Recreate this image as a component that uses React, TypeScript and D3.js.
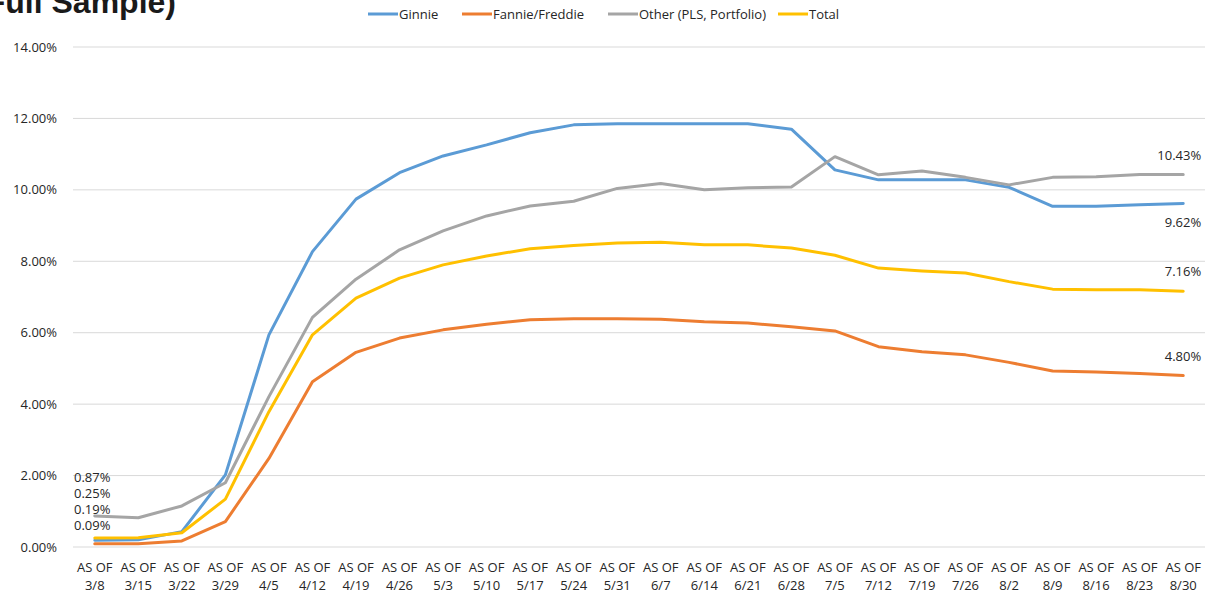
import React from "react";
import * as d3 from "d3";

const categories = ["3/8","3/15","3/22","3/29","4/5","4/12","4/19","4/26","5/3","5/10","5/17","5/24","5/31","6/7","6/14","6/21","6/28","7/5","7/12","7/19","7/26","8/2","8/9","8/16","8/23","8/30"];

const ginnie = [0.19,0.20,0.43,2.02,5.94,8.27,9.74,10.48,10.95,11.26,11.60,11.82,11.85,11.85,11.85,11.85,11.70,10.56,10.28,10.28,10.28,10.07,9.54,9.54,9.58,9.62];
const fannie = [0.09,0.09,0.17,0.71,2.48,4.63,5.45,5.85,6.08,6.24,6.36,6.39,6.39,6.38,6.31,6.27,6.17,6.05,5.61,5.47,5.38,5.17,4.93,4.90,4.86,4.80];
const other = [0.87,0.82,1.15,1.80,4.21,6.43,7.50,8.32,8.85,9.27,9.55,9.68,10.04,10.18,10.00,10.06,10.08,10.93,10.42,10.53,10.35,10.14,10.35,10.37,10.43,10.43];
const total = [0.25,0.26,0.40,1.34,3.79,5.94,6.97,7.53,7.90,8.15,8.35,8.44,8.51,8.53,8.46,8.46,8.37,8.17,7.81,7.73,7.67,7.43,7.22,7.20,7.20,7.16];

const seriesNames = ["Ginnie","Fannie/Freddie","Other (PLS, Portfolio)","Total"];
const seriesColors = ["#5B9BD5","#ED7D31","#A5A5A5","#FFC000"];
const yTicks = [0,2,4,6,8,10,12,14];

const W = 1211, H = 594;
const FONT = "'Open Sans', sans-serif";

export default function App() {
  const x = d3.scalePoint<string>().domain(categories).range([73, 1205]).padding(0.5);
  const y = d3.scaleLinear().domain([0, 14]).range([547, 47]);
  const data = [ginnie, fannie, other, total];
  const line = d3.line<number>().x((_, i) => x(categories[i]) as number).y(d => y(d));

  const legendX = [368, 462, 608, 778];
  const last = categories.length - 1;
  const lastX = x(categories[last]) as number;
  const rightLabels: [number, boolean][] = [[2, true], [0, false], [3, true], [1, true]];
  const leftOrder = [2, 3, 0, 1];

  return (
    <svg width={W} height={H} style={{ position: "absolute", left: 0, top: 0, background: "#fff" }} fontFamily={FONT}>
      <rect width={W} height={H} fill="#fff" />
      <text x={176} y={13} textAnchor="end" fontFamily="'Liberation Sans', Arial, sans-serif" fontWeight="bold" fontSize={32} fill="#1a1a1a">(Full Sample)</text>
      {yTicks.map(t => (
        <g key={t}>
          <line x1={73} x2={1205} y1={y(t)} y2={y(t)} stroke="#d9d9d9" strokeWidth={1} />
          <text x={57} y={y(t) + 4.5} textAnchor="end" fontSize={13} fill="#262626">{t.toFixed(2) + "%"}</text>
        </g>
      ))}
      {categories.map(c => (
        <g key={c}>
          <text x={x(c)} y={572} textAnchor="middle" fontSize={13} fill="#262626">AS OF</text>
          <text x={x(c)} y={590} textAnchor="middle" fontSize={13} fill="#262626">{c}</text>
        </g>
      ))}
      {data.map((d, i) => (
        <path key={i} d={line(d) || ""} fill="none" stroke={seriesColors[i]} strokeWidth={3} strokeLinejoin="round" strokeLinecap="round" />
      ))}
      {seriesNames.map((n, i) => (
        <g key={n}>
          <line x1={legendX[i]} x2={legendX[i] + 30} y1={14} y2={14} stroke={seriesColors[i]} strokeWidth={3} />
          <text x={legendX[i] + 31} y={18.5} fontSize={13} fill="#262626">{n}</text>
        </g>
      ))}
      {leftOrder.map((si, k) => (
        <text key={si} x={74} y={y(2) + 6 + k * 16} fontSize={13} fill="#262626">{data[si][0].toFixed(2) + "%"}</text>
      ))}
      {rightLabels.map(([si, above]) => (
        <text key={si} x={lastX + 18} y={y(data[si][last]) + (above ? -15 : 24)} textAnchor="end" fontSize={13} fill="#262626">{data[si][last].toFixed(2) + "%"}</text>
      ))}
    </svg>
  );
}
